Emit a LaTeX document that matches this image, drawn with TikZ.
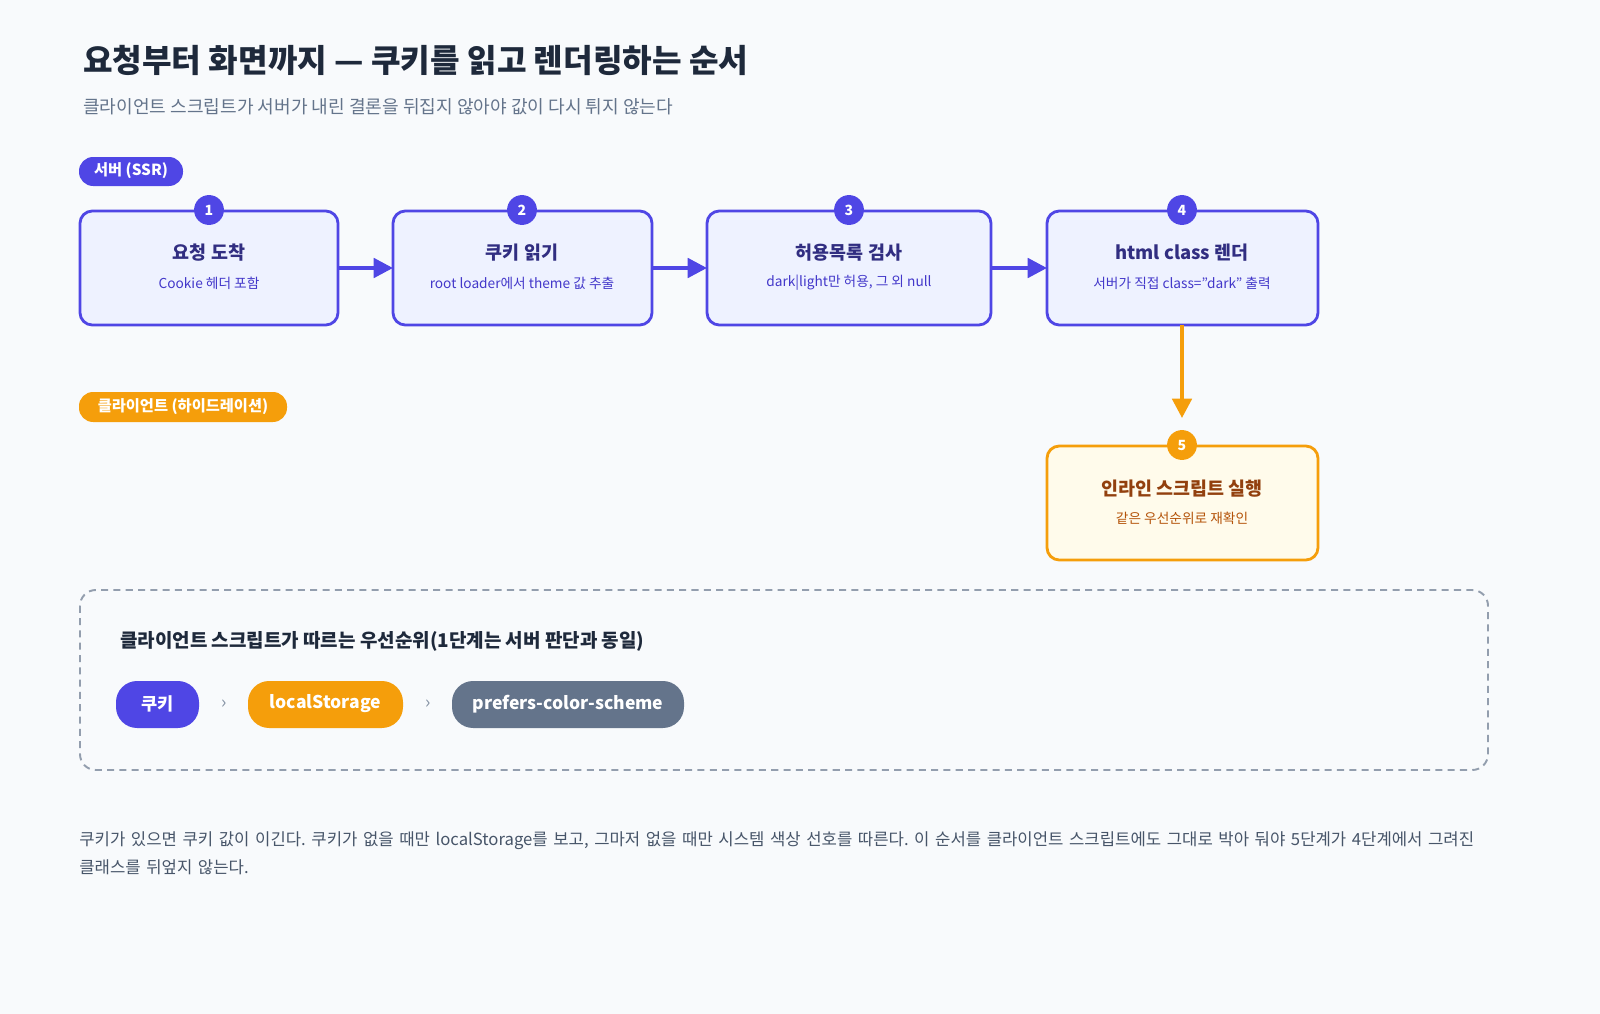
\documentclass[tikz,border=0pt]{standalone}
\usepackage{fontspec}
\setmainfont{Noto Sans CJK KR}
\usetikzlibrary{arrows.meta}
\definecolor{bg}{HTML}{F8FAFC}
\definecolor{ind}{HTML}{4F46E5}
\definecolor{indf}{HTML}{EEF2FF}
\definecolor{indt}{HTML}{312E81}
\definecolor{indt2}{HTML}{4338CA}
\definecolor{org}{HTML}{F59E0B}
\definecolor{orgf}{HTML}{FFFBEB}
\definecolor{orgt}{HTML}{92400E}
\definecolor{orgt2}{HTML}{B45309}
\definecolor{gry}{HTML}{64748B}
\definecolor{ttl}{HTML}{1E293B}
\definecolor{txt}{HTML}{475569}
\begin{document}
\frenchspacing
\begin{tikzpicture}[x=0.02cm,y=-0.02cm,
 box/.style={draw=ind,fill=indf,line width=1.6pt,rounded corners=7pt},
 obox/.style={draw=org,fill=orgf,line width=1.6pt,rounded corners=7pt},
 num/.style={circle,fill=#1,text=white,font=\fontsize{8}{9}\selectfont\bfseries,minimum size=17pt,inner sep=0pt},
 bt/.style={font=\fontsize{10.5}{12}\selectfont\bfseries,text=indt},
 bs/.style={font=\fontsize{7.8}{9}\selectfont,text=indt2},
 ptxt/.style={text=white,font=\fontsize{10}{11}\selectfont\bfseries},
 arr/.style={line width=2.2pt,-{Triangle[length=11pt,width=11pt]}}]
\fill[bg] (0,0) rectangle (1600,1014);
\useasboundingbox (0,0) rectangle (1600,1014);
\node[anchor=west,text=ttl,font=\fontsize{18.3}{22}\selectfont\bfseries] (title) at (77,60) {요청부터 화면까지 — 쿠키를 읽고 렌더링하는 순서};
\node[anchor=west,text=gry,font=\fontsize{10.3}{12}\selectfont] (sub) at (77,107) {클라이언트 스크립트가 서버가 내린 결론을 뒤집지 않아야 값이 다시 튀지 않는다};
% lane pills
\fill[ind,rounded corners=8pt] (79,157) rectangle (183,186);
\node[text=white,font=\fontsize{8.7}{10}\selectfont\bfseries] (l1) at (131,171) {서버 (SSR)};
\fill[org,rounded corners=8pt] (79,392) rectangle (287,422);
\node[text=white,font=\fontsize{8.7}{10}\selectfont\bfseries] (l2) at (183,407) {클라이언트 (하이드레이션)};
% boxes
\draw[box] (80,211) rectangle (338,325); \coordinate (b1w) at (80,268); \coordinate (b1e) at (338,268);
\draw[box] (393,211) rectangle (652,325); \coordinate (b2w) at (393,268); \coordinate (b2e) at (652,268);
\draw[box] (707,211) rectangle (991,325); \coordinate (b3w) at (707,268); \coordinate (b3e) at (991,268);
\draw[box] (1047,211) rectangle (1318,325); \coordinate (b4w) at (1047,268); \coordinate (b4s) at (1182,325);
\draw[obox] (1047,446) rectangle (1318,560); \coordinate (b5n) at (1182,418);
\node[bt] (t1) at (209,253) {요청 도착}; \node[bs] (s1) at (209,283) {Cookie 헤더 포함};
\node[bt] (t2) at (522,253) {쿠키 읽기}; \node[bs] (s2) at (522,283) {root loader에서 theme 값 추출};
\node[bt] (t3) at (849,253) {허용목록 검사}; \node[bs] (s3) at (849,283) {dark|light만 허용, 그 외 null};
\node[bt] (t4) at (1182,253) {html class 렌더}; \node[bs] (s4) at (1182,283) {서버가 직접 class="dark" 출력};
\node[bt,text=orgt] (t5) at (1182,489) {인라인 스크립트 실행}; \node[bs,text=orgt2] (s5) at (1182,518) {같은 우선순위로 재확인};
\node[num=ind] (n1) at (209,210) {1};
\node[num=ind] (n2) at (522,210) {2};
\node[num=ind] (n3) at (849,210) {3};
\node[num=ind] (n4) at (1182,210) {4};
\node[num=org] (n5) at (1182,445) {5};
\draw[arr,ind] (b1e) -- (b2w);
\draw[arr,ind] (b2e) -- (b3w);
\draw[arr,ind] (b3e) -- (b4w);
\draw[arr,org] (b4s) -- (b5n);
% priority box
\draw[gry!70,line width=1.1pt,dash pattern=on 4pt off 3pt,rounded corners=9pt] (80,590) rectangle (1488,770);
\node[anchor=west,text=ttl,font=\fontsize{10.8}{12}\selectfont\bfseries] (h) at (114,641) {클라이언트 스크립트가 따르는 우선순위(1단계는 서버 판단과 동일)};
\fill[ind,rounded corners=12pt] (116,681) rectangle (199,728); \node[ptxt] (p1) at (157.5,704) {쿠키};
\fill[org,rounded corners=12pt] (248,681) rectangle (403,728); \node[ptxt] (p2) at (325.5,704) {localStorage};
\fill[gry,rounded corners=12pt] (452,681) rectangle (684,728); \node[ptxt] (p3) at (568,704) {prefers-color-scheme};
\node[text=gry!80,font=\fontsize{10}{11}\selectfont] (c1) at (224,704) {›};
\node[text=gry!80,font=\fontsize{10}{11}\selectfont] (c2) at (428,704) {›};
\node[anchor=north west,text=txt,font=\fontsize{9.5}{16}\selectfont,text width=28.3cm,align=left,inner sep=0pt] (para) at (79,831) {쿠키가 있으면 쿠키 값이 이긴다. 쿠키가 없을 때만 localStorage를 보고, 그마저 없을 때만 시스템 색상 선호를 따른다. 이 순서를 클라이언트 스크립트에도 그대로 박아 둬야 5단계가 4단계에서 그려진 클래스를 뒤엎지 않는다.};
\end{tikzpicture}
\end{document}
